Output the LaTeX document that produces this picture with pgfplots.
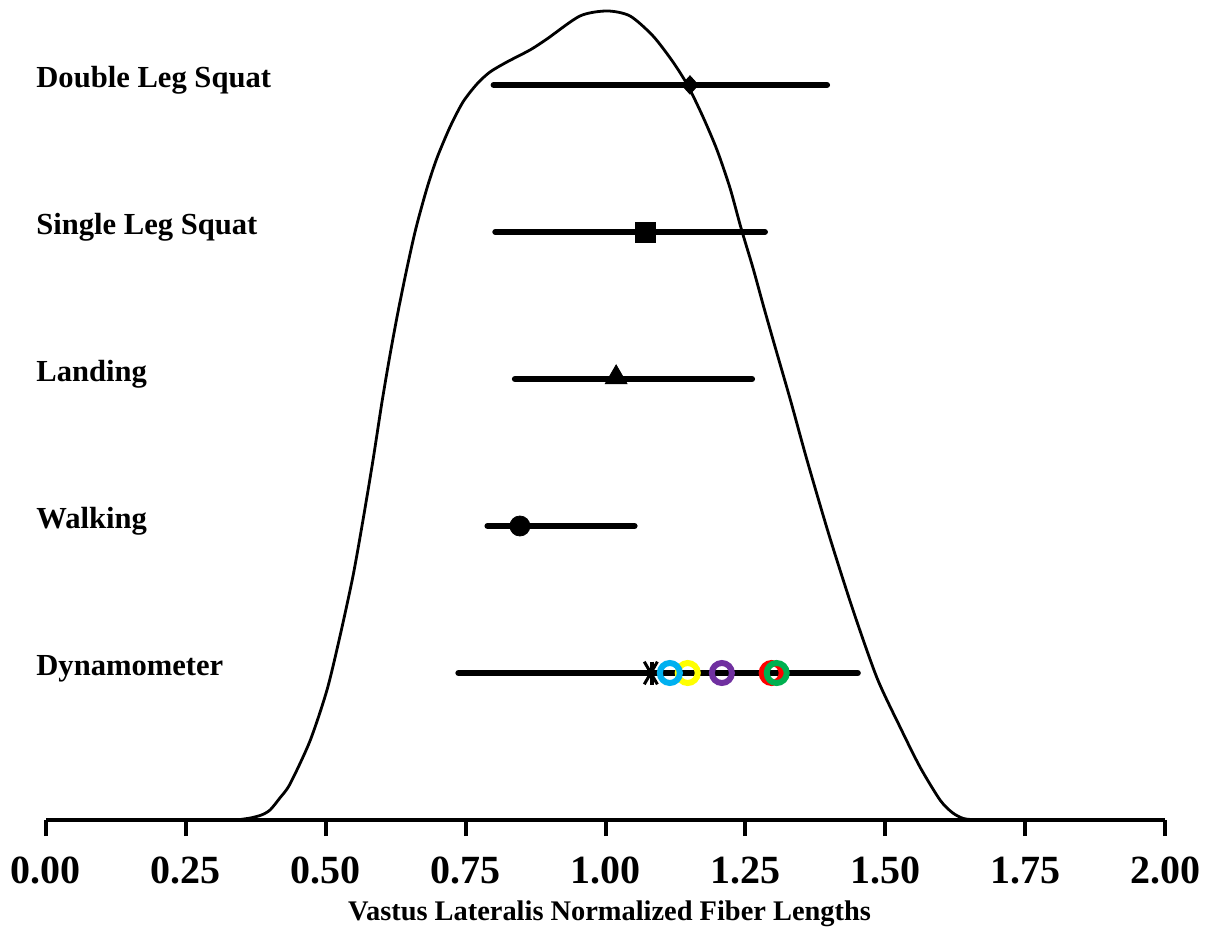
\documentclass[border=0pt]{standalone}
\usepackage{fontspec}
\setmainfont{Liberation Serif}
\usepackage{pgfplots}
\pgfplotsset{compat=1.18}
\definecolor{xlblue}{HTML}{00B0F0}
\definecolor{xlyellow}{HTML}{FFFF00}
\definecolor{xlpurple}{HTML}{7030A0}
\definecolor{xlred}{HTML}{FF0000}
\definecolor{xlgreen}{HTML}{00B050}
\begin{document}
\begin{tikzpicture}
\useasboundingbox (-23pt,-59.5pt) rectangle (583.5pt,410pt);
\begin{axis}[
  at={(0,0)}, anchor=south west,
  scale only axis, width=559.5pt, height=410pt,
  xmin=0, xmax=2, ymin=0, ymax=5.578,
  axis x line=bottom, axis y line=none,
  x axis line style={-, line width=2.2pt},
  xtick={0,0.25,0.5,0.75,1,1.25,1.5,1.75,2},
  xticklabels={0.00,0.25,0.50,0.75,1.00,1.25,1.50,1.75,2.00},
  xtick align=outside,
  major tick length=8pt,
  tick style={line width=2pt, black},
  xticklabel style={font=\fontsize{20}{24}\selectfont\bfseries, anchor=base, yshift=-23.5pt},
  xlabel={Vastus Lateralis Normalized Fiber Lengths},
  xlabel style={font=\fontsize{14.2}{17}\selectfont\bfseries, at={(axis description cs:0.5036,0)}, anchor=base, yshift=-50pt},
  clip=false,
]
% density curve
\addplot[line width=1.4pt, smooth, tension=0.45, line join=round] coordinates {
(0.3400,0) (0.3650,0.0136) (0.3850,0.0340) (0.4004,0.0680) (0.4180,0.1500) (0.4361,0.2449) (0.4718,0.5374)
(0.5022,0.8844) (0.5255,1.2517) (0.5487,1.6599) (0.5666,2.0408) (0.5845,2.4490)
(0.6005,2.8435) (0.6148,3.1633) (0.6291,3.4558) (0.6452,3.7551) (0.6613,4.0272)
(0.6810,4.2993) (0.6988,4.5034) (0.7221,4.7143) (0.7453,4.8844) (0.7703,5.0068)
(0.7936,5.0884) (0.8239,5.1565) (0.8651,5.2381) (0.8954,5.3129) (0.9544,5.4694)
(1.0027,5.5034) (1.0438,5.4694) (1.0849,5.3333) (1.1206,5.1565) (1.1475,4.9932)
(1.1743,4.7823) (1.1993,4.5578) (1.2225,4.2993) (1.2422,4.0272) (1.2636,3.7551)
(1.2833,3.4830) (1.3047,3.1973) (1.3305,2.8571) (1.3601,2.4490) (1.3995,1.9388)
(1.4423,1.4286) (1.4853,0.9660) (1.5264,0.6327) (1.5621,0.3605) (1.5979,0.1361)
(1.6200,0.0500) (1.6400,0.0100) (1.6650,0)
};
% range lines
\addplot[line width=3pt, line cap=round] coordinates {(0.800,5) (1.396,5)};
\addplot[line width=3pt, line cap=round] coordinates {(0.803,4) (1.285,4)};
\addplot[line width=3pt, line cap=round] coordinates {(0.838,3) (1.262,3)};
\addplot[line width=3pt, line cap=round] coordinates {(0.789,2) (1.052,2)};
\addplot[line width=3pt, line cap=round] coordinates {(0.737,1) (1.451,1)};
% markers
\addplot[only marks, mark=diamond*, mark size=4.6pt, mark options={xscale=1.2, fill=black}] coordinates {(1.151,5)};
\addplot[only marks, mark=square*, mark size=5pt, mark options={fill=black}] coordinates {(1.0715,4)};
\addplot[only marks, mark=triangle*, mark size=6.3pt, mark options={fill=black}] coordinates {(1.019,3.01)};
\addplot[only marks, mark=*, mark size=5pt, mark options={fill=black}] coordinates {(0.847,2)};
% dynamometer individual
\addplot[only marks, mark=o, mark size=5pt, mark options={line width=3pt, draw=xlyellow}] coordinates {(1.147,1)};
\addplot[only marks, mark=o, mark size=5pt, mark options={line width=3pt, draw=xlblue}] coordinates {(1.115,1)};
\addplot[only marks, mark=o, mark size=5pt, mark options={line width=3pt, draw=xlpurple}] coordinates {(1.208,1)};
\addplot[only marks, mark=o, mark size=5pt, mark options={line width=3pt, draw=xlred}] coordinates {(1.297,1)};
\addplot[only marks, mark=o, mark size=5pt, mark options={line width=3pt, draw=xlgreen}] coordinates {(1.306,1)};
\addplot[only marks, mark=x, mark size=8pt, mark options={xscale=0.58, line width=1.5pt, draw=black}] coordinates {(1.081,1)};
\addplot[only marks, mark=|, mark size=5.75pt, mark options={line width=1.8pt, draw=black}] coordinates {(1.083,1)};
% row labels
\begin{scope}[every node/.style={font=\fontsize{15.3}{18}\selectfont\bfseries, anchor=base west, inner sep=0pt}]
\node at (axis cs:-0.0179,4.986) {Double Leg Squat};
\node at (axis cs:-0.0179,3.986) {Single Leg Squat};
\node at (axis cs:-0.0179,2.986) {Landing};
\node at (axis cs:-0.0179,1.986) {Walking};
\node at (axis cs:-0.0179,0.986) {Dynamometer};
\end{scope}
\end{axis}
\end{tikzpicture}
\end{document}
